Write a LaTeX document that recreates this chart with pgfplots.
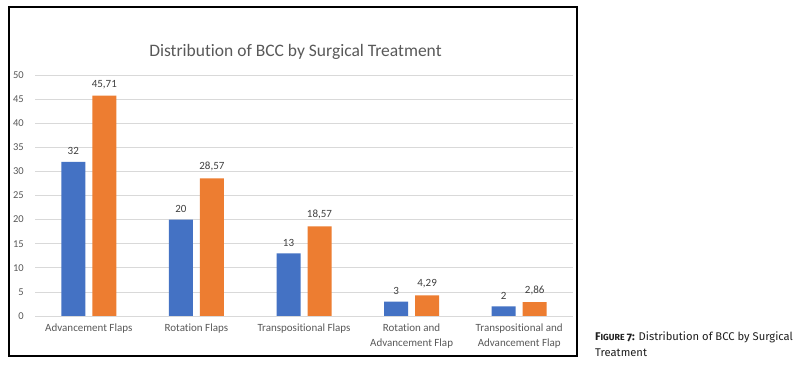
\documentclass[border=0pt]{standalone}
\usepackage{pgfplots}
\pgfplotsset{compat=1.18}
\usepackage{fontspec}
\setmainfont[RawFeature=-liga]{Carlito}
\newfontfamily\firafont[Numbers=OldStyle]{Fira Sans}
\definecolor{xblue}{HTML}{4472C4}
\definecolor{xorange}{HTML}{ED7D31}
\definecolor{xgrid}{HTML}{D9D9D9}
\definecolor{xtext}{HTML}{595959}
\definecolor{xlab}{HTML}{404040}
\pgfplotstableread{
x y lab
0 32 32
1 20 20
2 13 13
3 3 3
4 2 2
}\blue
\pgfplotstableread{
x y lab
0 45.71 45,71
1 28.57 28,57
2 18.57 18,57
3 4.29 4,29
4 2.86 2,86
}\orange
\begin{document}
\begin{tikzpicture}
\path[use as bounding box] (0,0) rectangle (802bp,367bp);
\fill[white] (0,0) rectangle (802bp,367bp);
\draw[line width=1.2bp, black] (9bp,11bp) rectangle (577bp,360bp);
\node[anchor=base, text=xtext, inner sep=0pt, font=\fontsize{17.5bp}{20bp}\selectfont] at (295.5bp,310bp) {Distribution of BCC by Surgical Treatment};
\begin{axis}[
  at={(35bp,51bp)}, anchor=south west,
  scale only axis, width=538bp, height=241bp,
  xmin=-0.5, xmax=4.5, ymin=0, ymax=50,
  ybar=7bp, bar width=24bp,
  ytick={0,5,...,50},
  xtick={0,1,2,3,4},
  xticklabels={{Advancement Flaps},{Rotation Flaps},{Transpositional Flaps},{Rotation and\\Advancement Flap},{Transpositional and\\Advancement Flap}},
  ymajorgrids, grid style={xgrid, line width=0.8bp},
  axis line style={draw=none},
  major tick length=0pt,
  /pgf/number format/assume math mode=true,
  yticklabel style={font=\fontsize{10.5bp}{12bp}\selectfont, text=xtext, anchor=east, inner sep=0pt, xshift=-11bp},
  xticklabel style={font=\fontsize{11bp}{15bp}\selectfont, text=xtext, anchor=north, inner sep=0pt, yshift=-8bp, align=center},
  point meta=explicit symbolic,
  nodes near coords,
  nodes near coords style={font=\fontsize{11bp}{12bp}\selectfont, text=xlab, anchor=south, inner sep=0pt, yshift=7bp},
  clip=false,
]
\addplot[fill=xblue, draw=none] table[x=x, y=y, meta=lab] {\blue};
\addplot[fill=xorange, draw=none] table[x=x, y=y, meta=lab] {\orange};
\end{axis}
\node[anchor=base west, inner sep=0pt, text=black!88, font=\firafont\fontsize{11.2bp}{13bp}\selectfont] at (595bp,27bp) {{\bfseries F\fontsize{8.8bp}{10bp}\selectfont IGURE \fontsize{11.2bp}{13bp}\selectfont 7:} Distribution of BCC by Surgical};
\node[anchor=base west, inner sep=0pt, text=black!88, font=\firafont\fontsize{11.2bp}{13bp}\selectfont] at (595bp,10.5bp) {Treatment};
\end{tikzpicture}
\end{document}
